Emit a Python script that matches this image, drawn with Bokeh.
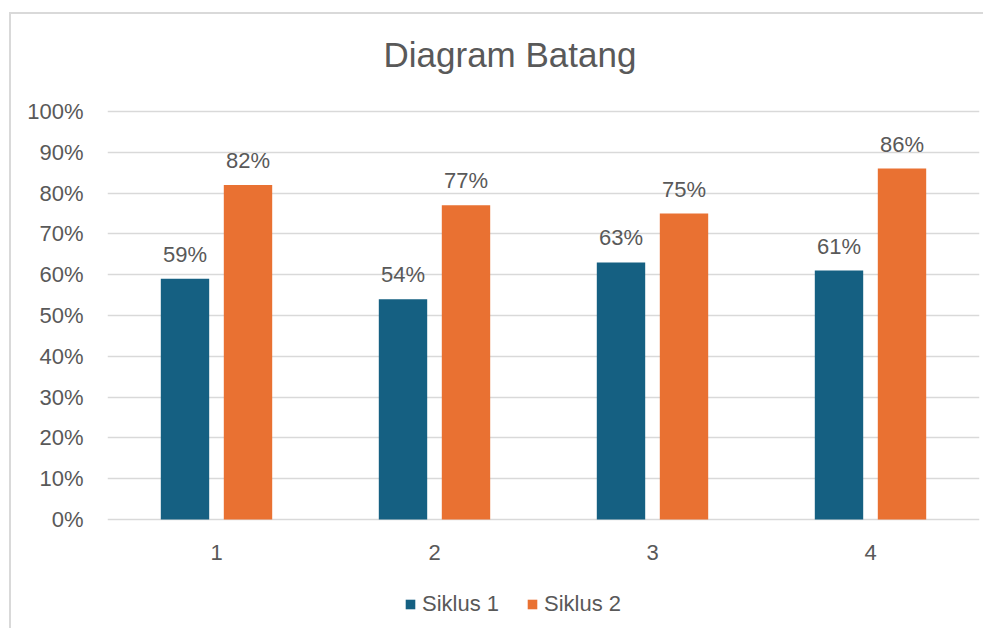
from bokeh.plotting import figure
from bokeh.models import ColumnDataSource, FactorRange, Range1d, NumeralTickFormatter, Legend, LegendItem, LabelSet, FixedTicker, Spacer, Grid
from bokeh.layouts import column, row
from bokeh.transform import dodge
from bokeh.core.properties import value
from bokeh.embed import file_html
from bokeh.resources import INLINE

categories = ["1", "2", "3", "4"]
siklus1 = [0.59, 0.54, 0.63, 0.61]
siklus2 = [0.82, 0.77, 0.75, 0.86]
series_names = ["Siklus 1", "Siklus 2"]
y_ticks = [0.0, 0.1, 0.2, 0.3, 0.4, 0.5, 0.6, 0.7, 0.8, 0.9, 1.0]

BLUE = "#156082"
ORANGE = "#E97132"
TEXT = "#595959"
GRID = "#D9D9D9"
FONT = "Liberation Sans"

src = ColumnDataSource(dict(
    cat=categories,
    base=[0.0] * len(categories),
    s1=siklus1,
    s2=siklus2,
    l1=[f"{round(v*100)}%" for v in siklus1],
    l2=[f"{round(v*100)}%" for v in siklus2],
))

# frame extends below the 0% line (and a little above 100%) so the category
# labels and the legend fit inside it
p = figure(
    x_range=FactorRange(*categories, range_padding=0),
    y_range=Range1d(-106 / 408, 1 + 23 / 408),
    width=974, height=616,
    output_backend="svg", toolbar_location=None,
    x_axis_location=None,
    min_border_left=96, min_border_right=6,
    min_border_top=74, min_border_bottom=5,
    styles={"border-left": "2px solid #D9D9D9", "border-top": "2px solid #D9D9D9"},
)
p.outline_line_color = None

r1 = p.vbar(x=dodge("cat", -0.1445, range=p.x_range), top="s1", width=0.222,
            source=src, fill_color=BLUE, line_color=None)
r2 = p.vbar(x=dodge("cat", 0.1445, range=p.x_range), top="s2", width=0.222,
            source=src, fill_color=ORANGE, line_color=None)

for col, lab, off in (("s1", "l1", -0.1445), ("s2", "l2", 0.1445)):
    ls = LabelSet(x=dodge("cat", off, range=p.x_range), y=col, text=lab, source=src,
                  text_align="center", text_baseline="alphabetic", y_offset=17,
                  text_font=value(FONT), text_font_size=value("22px"), text_color=TEXT)
    p.add_layout(ls)

# category labels under the 0% line
cat_labels = LabelSet(x="cat", y="base", text="cat", source=src,
                      text_align="center", text_baseline="middle", y_offset=-33,
                      text_font=value(FONT), text_font_size=value("22px"), text_color=TEXT)
p.add_layout(cat_labels)

# title
p.title.text = "Diagram Batang"
p.title.text_font = FONT
p.title.text_font_size = "35px"
p.title.text_font_style = "normal"
p.title.text_color = TEXT
p.title.align = "left"
p.title.offset = 276
p.title.standoff = 30

# y axis
p.yaxis.ticker = FixedTicker(ticks=y_ticks)
p.yaxis.formatter = NumeralTickFormatter(format="0%")
p.yaxis.axis_line_color = None
p.yaxis.major_tick_line_color = None
p.yaxis.minor_tick_line_color = None
p.yaxis.major_label_standoff = 18
p.yaxis.major_label_text_font = FONT
p.yaxis.major_label_text_font_size = "22px"
p.yaxis.major_label_text_color = TEXT

for g in p.select(type=Grid):
    if g.dimension == 0:
        g.grid_line_color = None
        g.visible = False
    else:
        g.grid_line_color = GRID
        g.grid_line_width = 1.5

legend = Legend(items=[LegendItem(label=series_names[0], renderers=[r1]),
                       LegendItem(label=series_names[1], renderers=[r2])],
                location=(297, 8), orientation="horizontal",
                glyph_width=12, glyph_height=12, label_standoff=6, spacing=27,
                padding=0, margin=0, border_line_color=None, background_fill_alpha=0,
                label_text_font=FONT, label_text_font_size="22px", label_text_color=TEXT)
p.add_layout(legend, "center")

layout = column(Spacer(height=12, width=10), row(Spacer(width=9, height=10), p))
open("out.html", "w").write(file_html(layout, INLINE))
